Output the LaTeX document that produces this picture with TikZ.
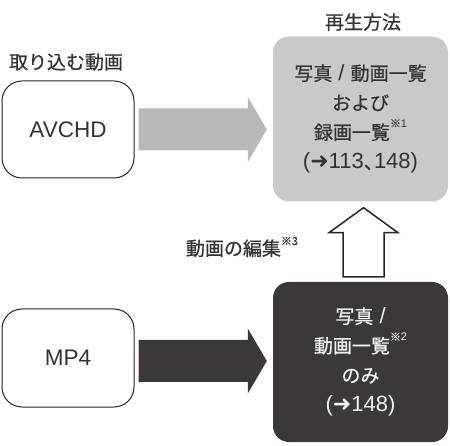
\documentclass[tikz,border=0pt]{standalone}
\usepackage{fontspec}
\setmainfont{Liberation Sans}
\newfontfamily\jp[FakeBold=0.6]{Noto Sans CJK JP}
\newfontfamily\sym{DejaVu Sans}
\usetikzlibrary{calc}
\definecolor{txt}{HTML}{333333}
\definecolor{lightbox}{HTML}{C9C9C9}
\definecolor{lightarrow}{HTML}{B8B8B8}
\definecolor{darkbox}{HTML}{3C3837}
\definecolor{outline}{HTML}{2A2420}
\definecolor{lighttxt}{HTML}{F2F2F2}
\newcommand\note[1]{\raisebox{0.55em}{\fontsize{11}{11}\selectfont{\jp ※}#1}}
\newcommand\arr{{\sym ➜}}
\newcommand\J[1]{{\fontsize{19}{29.5}\selectfont\jp #1}}
\tikzset{
  srcbox/.style={draw=outline, line width=1pt, rounded corners=20pt, minimum width=132pt, minimum height=97pt, inner sep=0pt, text=txt, font=\fontsize{22.5}{22.5}\selectfont},
  playbox/.style={rounded corners=16pt, minimum width=175pt, inner sep=0pt, align=center, font=\fontsize{22}{29.5}\selectfont},
  lbl/.style={text=txt, inner sep=0pt, font=\fontsize{19}{19}\selectfont\jp},
  blockarrow/.style={to path={let \p1=(\tikztostart), \p2=(\tikztotarget) in
    (\x1,\y1+21pt) -- (\x2-19pt,\y1+21pt) -- (\x2-19pt,\y1+32.5pt) -- (\x2,\y1)
    -- (\x2-19pt,\y1-32.5pt) -- (\x2-19pt,\y1-21pt) -- (\x1,\y1-21pt) -- cycle}},
  uparrow/.style={to path={let \p1=(\tikztostart), \p2=(\tikztotarget) in
    (\x1-20.5pt,\y1) -- (\x1-20.5pt,\y2-25pt) -- (\x1-34.5pt,\y2-25pt) -- (\x1,\y2)
    -- (\x1+34.5pt,\y2-25pt) -- (\x1+20.5pt,\y2-25pt) -- (\x1+20.5pt,\y1) -- cycle}}
}
\begin{document}
\begin{tikzpicture}[x=1pt,y=-1pt]
\useasboundingbox (0,0) rectangle (450,446);

% source boxes
\node[srcbox] (avchd) at (68,129.5) {AVCHD};
\node[srcbox, minimum height=98pt] (mp4) at (68,358) {MP4};

% playback boxes
\node[playbox, fill=lightbox, minimum height=165pt, text=txt] (play) at (360.5,119)
  {\J{写真} / \J{動画一覧}\\\J{および}\\\J{録画一覧}\note{1}\\(\arr113\J{、}\kern-0.4em148)};
\node[playbox, fill=darkbox, minimum height=160pt, text=lighttxt] (only) at (360.5,362)
  {\J{写真} /\\\J{動画一覧}\note{2}\\\J{のみ}\\(\arr148)};

% labels
\node[lbl] (srclbl) at (66,62) {取り込む動画};
\node[lbl] (playlbl) at (363,22) {再生方法};
\node[lbl] (editlbl) at (242,247) {動画の編集\note{3}};

% arrows
\coordinate (a1s) at ($(avchd.east)+(4,0)$);
\coordinate (a1e) at ($(play.west |- avchd.east)+(-6,0)$);
\fill[lightarrow] (a1s) to[blockarrow] (a1e);

\coordinate (a2s) at ($(mp4.east)+(4,3)$);
\coordinate (a2e) at ($(only.west |- a2s)+(-6,0)$);
\fill[darkbox] (a2s) to[blockarrow] (a2e);

\coordinate (a3s) at ($(only.north)+(3,-5)$);
\coordinate (a3e) at ($(play.south)+(3,6)$);
\draw[outline, line width=1.5pt, line join=miter, fill=white] (a3s) to[uparrow] (a3e);
\end{tikzpicture}
\end{document}
